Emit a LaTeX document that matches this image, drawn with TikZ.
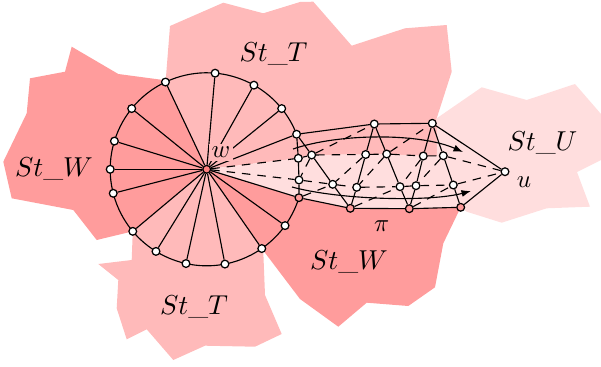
\documentclass[tikz,border=0pt]{standalone}
\usetikzlibrary{arrows.meta}
\pgfdeclarelayer{bg}
\pgfsetlayers{bg,main}
\colorlet{colW}{red!39}
\colorlet{colT}{red!27}
\colorlet{colU}{red!13}
\begin{document}
\begin{tikzpicture}[x=0.4pt,y=-0.4pt,
  v/.style={circle,draw,fill=white,inner sep=0pt,minimum size=3.1pt,line width=0.5pt},
  vp/.style={v,fill=colW},
  vw/.style={v,fill=red!50},
  ed/.style={line width=0.45pt},
  de/.style={line width=0.45pt,dash pattern=on 3.4pt off 2.8pt},
  arr/.style={ed,-{Latex[length=3.8pt,width=2.8pt]}},
  lab/.style={font=\fontsize{10.6}{13}\selectfont,inner sep=0pt},
  slab/.style={inner sep=0pt}]
\useasboundingbox (0,0) rectangle (601,367);
% vertices
\node[vw] (w) at (206.7,169.3) {};
\foreach \n/\a in {q1/85,q2/60.7,q3/39,c1/21.3,q6/-35.7,q7/-55.2,q8/-79.1,q9/-102.4,q10/-121.7,q11/-140,q12/-165.6,q13/180,q14/163,q15/141,q16/115.3}
  \path (w.center) ++(\a:38.6pt) node[v] (\n) {};
\path (w.center) ++(-17.1:38.6pt) node[vp] (c2) {};
\node[v] (a1) at (374.3,124) {};
\node[v] (a2) at (432.3,123.3) {};
\node[v] (b0) at (298.3,158.3) {};
\node[v] (b1) at (311.7,155) {};
\node[v] (b2) at (365.7,154.5) {};
\node[v] (b3) at (386.7,154) {};
\node[v] (b4) at (423.3,156) {};
\node[v] (b5) at (443.3,155.7) {};
\node[v] (c0) at (299,180) {};
\node[v] (k1) at (332.7,184.3) {};
\node[v] (k2) at (356.7,187.3) {};
\node[v] (k3) at (400,186.7) {};
\node[v] (k4) at (416,185.7) {};
\node[v] (k5) at (453.3,185) {};
\node[vp] (d1) at (350.3,208.3) {};
\node[vp] (d2) at (409.3,208.7) {};
\node[vp] (d3) at (460.7,207.3) {};
\node[v] (u) at (505,171.7) {};
% regions
\begin{pgfonlayer}{bg}
\fill[colW] (w.center) -- (q16.center) -- (163.3,80) -- (118.3,74) -- (71.7,46.7) -- (65,71.7) -- (30,78.3) -- (26.7,113.3) -- (3.3,161.7) -- (11.7,198.3) -- (73.3,210) -- (96.7,240) -- (q11.center) -- cycle;
\fill[colT] (w.center) -- (q16.center) -- (166,76.7) -- (170,26) -- (223.3,2.7) -- (263.3,13.3) -- (300,2) -- (313.3,1.7) -- (351.7,45.7) -- (405,28.3) -- (446.7,25) -- (451.7,71.7) -- (436.7,118.3) -- (437,155.8) -- (b4.center) -- (b3.center) -- (b2.center) -- (b1.center) -- (b0.center) -- cycle;
\fill[colU] (436.7,118.3) -- (481.7,87.3) -- (526.7,100) -- (575,84) -- (601,114) -- (601,160) -- (577,172) -- (590,206.7) -- (546.7,208.3) -- (501.7,222.7) -- (466.7,211.7) -- (d3.center) -- (d2.center) -- (d1.center) -- (c2.center) -- (w.center) -- (b0.center) -- (b1.center) -- (b2.center) -- (b3.center) -- (b4.center) -- (437,155.8) -- cycle;
\fill[colW] (w.center) -- (c2.center) -- (d1.center) -- (d2.center) -- (d3.center) -- (443.3,243.3) -- (435,287.3) -- (408.3,306) -- (366.7,302.7) -- (338.3,326.7) -- (300,299) -- (q7.center) -- cycle;
\fill[colT] (w.center) -- (q7.center) -- (263.3,252) -- (265,295) -- (281.7,334) -- (255,346.7) -- (205,345.7) -- (173.3,360) -- (146.7,329.3) -- (126.7,339.3) -- (116.7,308.3) -- (118.3,280) -- (98.3,264) -- (131.7,260) -- (q11.center) -- cycle;
\draw[ed] (c1.center) arc[start angle=21.3,end angle=342.9,radius=38.6pt];
\end{pgfonlayer}
% spokes
\foreach \n in {q1,q2,q3,c1,c2,q6,q7,q8,q9,q10,q11,q12,q13,q14,q15,q16}
  \draw[ed] (w) -- (\n);
% strip edges
\draw[ed] (c1) -- (b0) -- (c0) -- (c2);
\draw[ed] (c1) -- (a1) -- (a2) -- (u) -- (d3) -- (d2) -- (d1) -- (c2);
\draw[ed] (c1) -- (b1) -- (k1) -- (d1);
\draw[ed] (a1) -- (b2) -- (k2) -- (d1);
\draw[ed] (a1) -- (b3) -- (k3) -- (d2);
\draw[ed] (a2) -- (b4) -- (k4) -- (d2);
\draw[ed] (a2) -- (b5) -- (k5) -- (d3);
\draw[de] (w) -- (b0) -- (b1) -- (b2) -- (b3) -- (b4) -- (b5) -- (u);
\draw[de] (w) -- (c0) -- (k1) -- (k2) -- (k3) -- (k4) -- (k5) -- (u);
\draw[de] (b1) -- (a1) (b3) -- (a2) (b1) -- (c0) (b2) -- (k1) (b3) -- (k2) (b4) -- (k3) (b5) -- (k4) (c2) -- (k1) (d1) -- (k3) (d2) -- (k5);
% curved arrows
\coordinate (s1) at (293,149);
\coordinate (e1) at (463,152);
\coordinate (s2) at (292,187);
\coordinate (e2) at (471,191);
\draw[arr] (s1) .. controls (340,133) and (420,133) .. (e1);
\draw[arr] (s2) .. controls (340,200) and (430,202) .. (e2);
% labels
\node[slab,fill=colT,inner sep=1.2pt] (lw) at (221,152.5) {$w$};
\node[lab] (lT1) at (273.5,54) {$St\_T$};
\node[lab] (lW1) at (54,168.5) {$St\_W$};
\node[lab] (lU) at (542.5,142.7) {$St\_U$};
\node[lab] (lW2) at (349,261.7) {$St\_W$};
\node[lab] (lT2) at (194,306.7) {$St\_T$};
\node[slab] (lu) at (524,182) {$u$};
\node[slab] (lpi) at (381.7,226) {$\pi$};
\end{tikzpicture}
\end{document}
